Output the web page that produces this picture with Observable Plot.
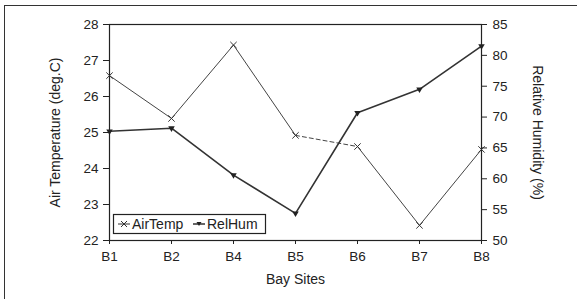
<!DOCTYPE html>
<html>
<head>
<meta charset="utf-8">
<script src="https://cdn.jsdelivr.net/npm/d3@7"></script>
<script src="https://cdn.jsdelivr.net/npm/@observablehq/plot@0.6"></script>
<style>
  html, body { margin: 0; padding: 0; background: #fff; }
  #wrap { position: relative; width: 577px; height: 299px; overflow: hidden; }
  #border { position: absolute; left: 4px; top: 5px; width: 600px; height: 320px;
            border-left: 1.5px solid #333; border-top: 1.5px solid #333; pointer-events: none; }
</style>
</head>
<body>
<div id="wrap"><div id="border"></div></div>
<script>
const sites = ["B1", "B2", "B4", "B5", "B6", "B7", "B8"];
const airTemp = [26.58, 25.39, 27.43, 24.92, 24.61, 22.42, 24.53];
const relHum = [67.7, 68.2, 60.6, 54.4, 70.7, 74.5, 81.5];
const leftTicks = [22, 23, 24, 25, 26, 27, 28];
const rightTicks = [50, 55, 60, 65, 70, 75, 80, 85];
const seriesNames = ["AirTemp", "RelHum"];
const xTitle = "Bay Sites";
const yLeftTitle = "Air Temperature (deg.C)";
const yRightTitle = "Relative Humidity (%)";

// map the right-axis (RelHum) values onto the left y scale
const toLeft = v => 22 + (v - 50) * 6 / 35;
const fromLeft = t => 50 + (t - 22) * 35 / 6;

const air = sites.map((s, i) => ({site: s, v: airTemp[i]}));
const hum = sites.map((s, i) => ({site: s, v: toLeft(relHum[i])}));

const ink = "#222";
const chart = Plot.plot({
  width: 577,
  height: 299,
  marginLeft: 109,
  marginRight: 96,
  marginTop: 24,
  marginBottom: 59,
  style: {fontFamily: "'Liberation Sans', Arial, sans-serif", fontSize: "13.5px", color: ink, background: "transparent"},
  x: {type: "point", domain: sites, padding: 0},
  y: {domain: [22, 28]},
  marks: [
    Plot.frame({stroke: ink, strokeWidth: 1.2}),
    Plot.axisX({ticks: sites, tickSize: 4, tickPadding: 7, label: null, stroke: ink}),
    Plot.axisY({ticks: leftTicks, tickSize: 6, tickPadding: 5, label: null, stroke: ink, tickFormat: d => String(d)}),
    Plot.axisY(rightTicks.map(toLeft), {anchor: "right", tickSize: 5, tickPadding: 6, label: null, stroke: ink,
      tickFormat: d => String(Math.round(fromLeft(d)))}),
    // AirTemp (thin, x markers); the B5-B6 segment is dashed
    Plot.line(air.slice(0, 4), {x: "site", y: "v", stroke: "#444", strokeWidth: 1}),
    Plot.line(air.slice(3, 5), {x: "site", y: "v", stroke: "#444", strokeWidth: 1, strokeDasharray: "4,3"}),
    Plot.line(air.slice(4), {x: "site", y: "v", stroke: "#444", strokeWidth: 1}),
    Plot.dot(air, {x: "site", y: "v", symbol: "times", r: 3, stroke: "#333", strokeWidth: 1}),
    // RelHum (thicker, filled markers)
    Plot.line(hum, {x: "site", y: "v", stroke: "#333", strokeWidth: 1.6}),
    Plot.dot(hum, {x: "site", y: "v", symbol: "triangle", rotate: 180, r: 2.4, fill: "#222", stroke: "none"}),
    // axis titles
    Plot.text([yLeftTitle], {frameAnchor: "left", textAnchor: "middle", dx: -54, rotate: -90, text: d => d, fontSize: 14, fill: ink}),
    Plot.text([yRightTitle], {frameAnchor: "right", textAnchor: "middle", dx: 56, rotate: 90, text: d => d, fontSize: 14, fill: ink}),
    Plot.text([xTitle], {frameAnchor: "bottom", textAnchor: "middle", dy: 43, text: d => d, fontSize: 14, fill: ink})
  ]
});
chart.style.position = "absolute";
chart.style.left = "0px";
chart.style.top = "0px";
document.getElementById("wrap").appendChild(chart);

// legend inside the plot area
const svg = d3.select(chart);
const lg = svg.append("g").attr("font-family", "'Liberation Sans', Arial, sans-serif").attr("font-size", 14)
  .attr("fill", ink).attr("text-anchor", "start");
lg.append("rect").attr("x", 113.5).attr("y", 214.5).attr("width", 152).attr("height", 19)
  .attr("fill", "#fff").attr("stroke", ink).attr("stroke-width", 1.2);
const items = [
  {name: seriesNames[0], x: 118},
  {name: seriesNames[1], x: 193}
];
items.forEach((it, i) => {
  lg.append("line").attr("x1", it.x).attr("x2", it.x + 12).attr("y1", 224).attr("y2", 224)
    .attr("stroke", "#333").attr("stroke-width", i ? 1.5 : 1);
  if (i === 0) {
    lg.append("path").attr("d", `M${it.x+3},221L${it.x+9},227M${it.x+9},221L${it.x+3},227`).attr("stroke", "#333").attr("stroke-width", 1);
  } else {
    lg.append("path").attr("d", `M${it.x+3.5},222L${it.x+8.5},222L${it.x+6},226Z`).attr("fill", "#222");
  }
  lg.append("text").attr("x", it.x + 14).attr("y", 229).attr("text-anchor", "start").text(it.name);
});
</script>
</body>
</html>
